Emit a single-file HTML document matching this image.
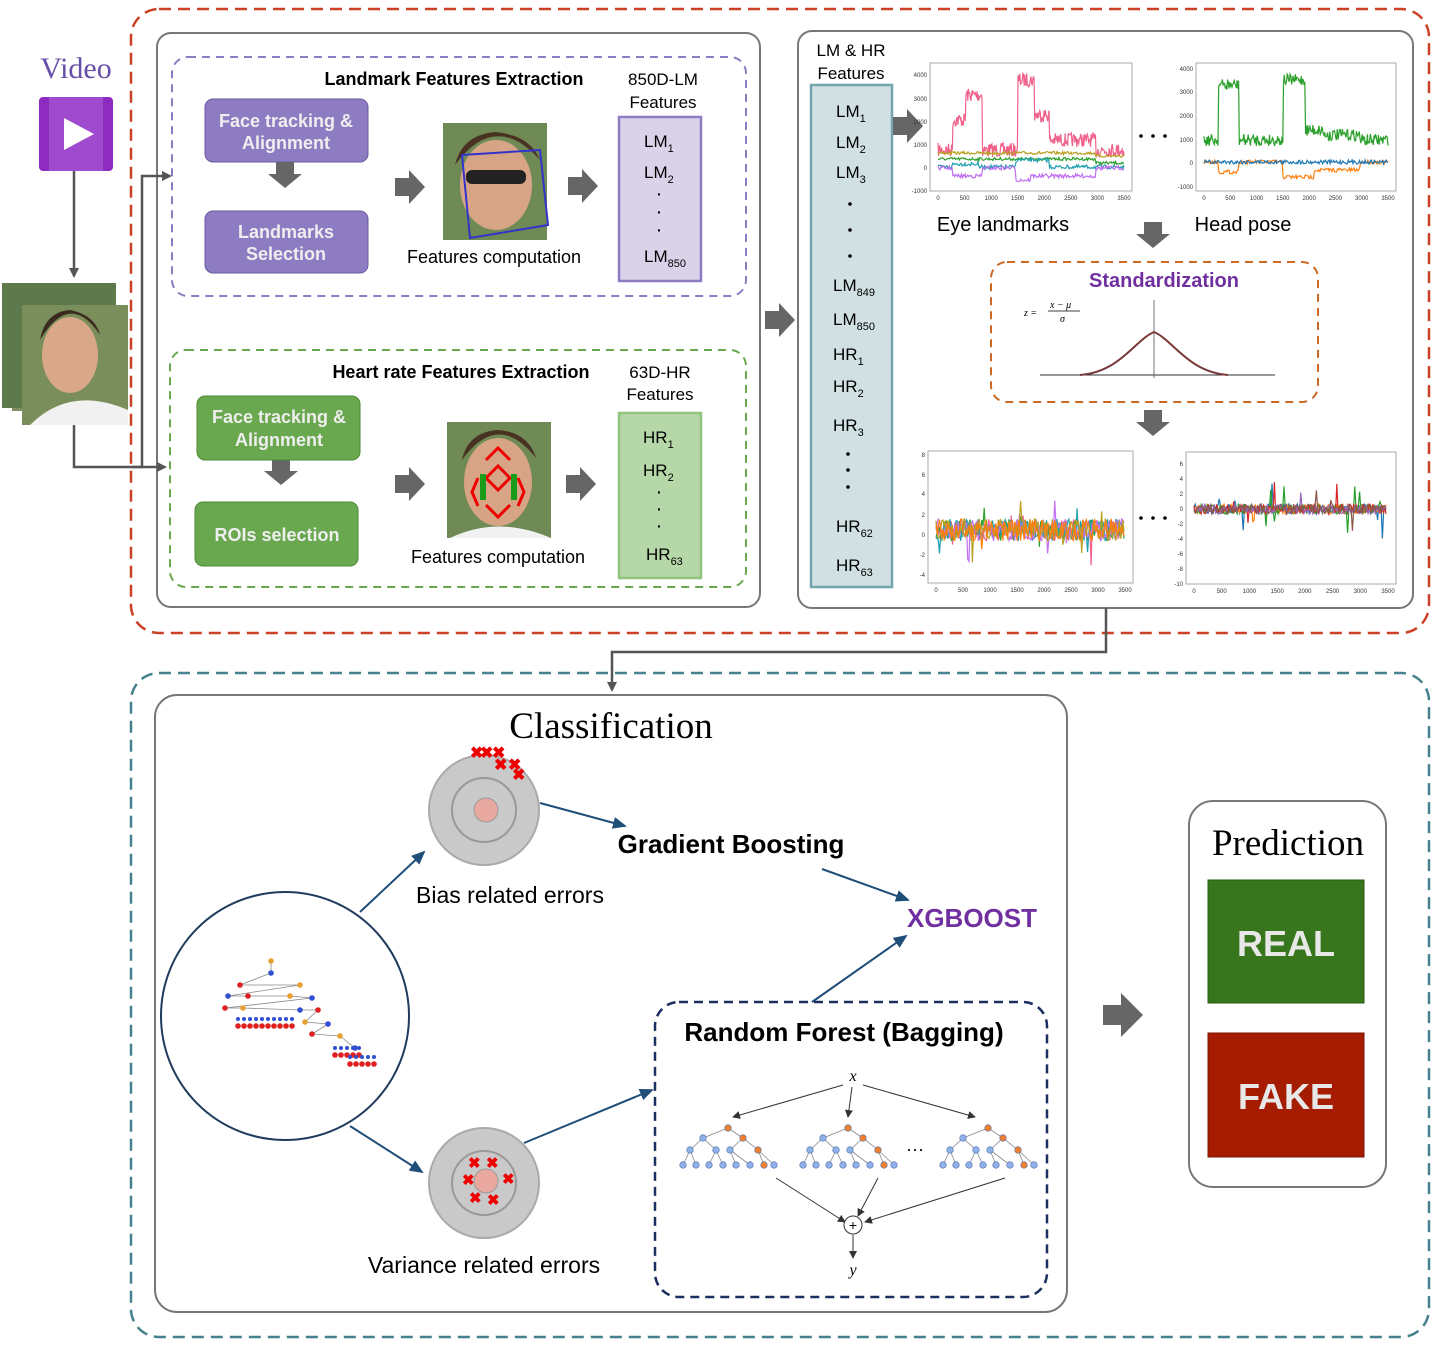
<!DOCTYPE html>
<html><head><meta charset="utf-8"><style>
body{margin:0;background:#fff;width:1440px;height:1349px;overflow:hidden}
svg text{font-family:"Liberation Sans",sans-serif}
</style></head><body>
<svg id="s" width="1440" height="1349" viewBox="0 0 1440 1349" xmlns="http://www.w3.org/2000/svg">
<defs>
<marker id="ah" markerWidth="10" markerHeight="10" refX="8" refY="5" orient="auto" markerUnits="userSpaceOnUse"><path d="M0,0 L10,5 L0,10 z" fill="#555"/></marker>
<marker id="ab" markerWidth="14" markerHeight="12" refX="12" refY="6" orient="auto" markerUnits="userSpaceOnUse"><path d="M0,0 L14,6 L0,12 z" fill="#1f4e79"/></marker>
<marker id="ak" markerWidth="8" markerHeight="8" refX="7" refY="4" orient="auto" markerUnits="userSpaceOnUse"><path d="M0,0 L8,4 L0,8 z" fill="#333"/></marker>
<g id="fat"><path d="M0,-9 L14,-9 L14,-17 L30,0 L14,17 L14,9 L0,9 z" fill="#666"/></g>
<g id="fatd"><path d="M-9,0 L-9,-12 L9,-12 L9,0 L17,0 L0,14 L-17,0 z" fill="#666"/></g>
</defs>
<rect x="131" y="9" width="1298" height="624" rx="28" fill="none" stroke="#cc4125" stroke-width="2.5" stroke-dasharray="12,7"/>
<rect x="131" y="673" width="1298" height="664" rx="28" fill="none" stroke="#45818e" stroke-width="2.5" stroke-dasharray="12,7"/>
<rect x="157" y="33" width="603" height="574" rx="14" fill="none" stroke="#777" stroke-width="2"/>
<rect x="798" y="31" width="615" height="577" rx="14" fill="none" stroke="#777" stroke-width="2"/>
<rect x="172" y="57" width="574" height="239" rx="16" fill="none" stroke="#8e7cc3" stroke-width="2" stroke-dasharray="8,6"/>
<rect x="170" y="350" width="576" height="237" rx="16" fill="none" stroke="#6aa84f" stroke-width="2" stroke-dasharray="8,6"/>

<text x="76" y="78" font-size="30" fill="#674ea7" text-anchor="middle" style="font-family:'Liberation Serif',serif">Video</text>
<rect x="39" y="97" width="74" height="74" rx="4" fill="#8e2bc0"/>
<rect x="49" y="97" width="54" height="74" fill="#a04ad0"/>
<path d="M64,118 L94,134 L64,150 z" fill="#fff"/>
<line x1="74" y1="171" x2="74" y2="276" stroke="#555" stroke-width="2.5" marker-end="url(#ah)"/>
<rect x="22" y="283" width="84" height="118" fill="#6a7f58"/>
<rect x="12" y="293" width="104" height="118" fill="#7e8f63"/>
<rect x="2" y="283" width="114" height="125" fill="#5e7a4c"/>
<rect x="22" y="305" width="106" height="120" fill="#7a8e5c"/>
<ellipse cx="70" cy="355" rx="28" ry="38" fill="#d9a888"/>
<path d="M40,340 Q70,290 100,335 Q95,315 70,310 Q45,312 40,340z" fill="#3b2a1e"/>
<path d="M30,425 Q70,385 128,410 L128,425z" fill="#f1f1f1"/>
<polyline points="74,425 74,467 165,467" fill="none" stroke="#555" stroke-width="2.5" marker-end="url(#ah)"/>
<polyline points="132,467 142,467 142,176 170,176" fill="none" stroke="#555" stroke-width="2.5" marker-end="url(#ah)"/>

<text x="454" y="85" font-size="18" font-weight="bold" text-anchor="middle">Landmark Features Extraction</text>
<rect x="205" y="99" width="163" height="63" rx="8" fill="#8e7cc3" stroke="#6a5aa0"/>
<text x="286" y="127" font-size="18" font-weight="bold" fill="#eee" text-anchor="middle">Face tracking &amp;</text>
<text x="286" y="149" font-size="18" font-weight="bold" fill="#eee" text-anchor="middle">Alignment</text>
<use href="#fatd" x="285" y="174"/>
<rect x="205" y="211" width="163" height="62" rx="8" fill="#8e7cc3" stroke="#6a5aa0"/>
<text x="286" y="238" font-size="18" font-weight="bold" fill="#eee" text-anchor="middle">Landmarks</text>
<text x="286" y="260" font-size="18" font-weight="bold" fill="#eee" text-anchor="middle">Selection</text>
<use href="#fatd" x="281" y="471"/>
<use href="#fat" x="395" y="187"/>
<use href="#fat" x="568" y="186"/>
<rect x="443" y="123" width="104" height="117" fill="#6f8a55"/>
<ellipse cx="496" cy="185" rx="36" ry="45" fill="#d7a585"/>
<path d="M455,165 Q495,110 540,160 Q530,135 495,132 Q462,135 455,165z" fill="#4a3222"/>
<rect x="466" y="170" width="60" height="14" rx="6" fill="#222"/>
<polygon points="462,155 540,150 548,225 470,238" fill="none" stroke="#3333cc" stroke-width="2"/>
<text x="494" y="263" font-size="18" text-anchor="middle">Features computation</text>
<text x="663" y="85" font-size="17" text-anchor="middle">850D-LM</text>
<text x="663" y="108" font-size="17" text-anchor="middle">Features</text>
<rect x="619" y="117" width="82" height="164" fill="#d9d2e9" stroke="#8e7cc3" stroke-width="2.5"/>
<text x="644" y="147" font-size="17">LM<tspan font-size="11" dy="5">1</tspan></text>
<text x="644" y="178" font-size="17">LM<tspan font-size="11" dy="5">2</tspan></text>
<text x="659" y="200" font-size="20" text-anchor="middle">·</text>
<text x="659" y="218" font-size="20" text-anchor="middle">·</text>
<text x="659" y="236" font-size="20" text-anchor="middle">·</text>
<text x="644" y="262" font-size="17">LM<tspan font-size="11" dy="5">850</tspan></text>

<text x="461" y="378" font-size="18" font-weight="bold" text-anchor="middle">Heart rate Features Extraction</text>
<rect x="197" y="396" width="163" height="64" rx="8" fill="#6aa84f" stroke="#4e8a36"/>
<text x="279" y="423" font-size="18" font-weight="bold" fill="#eee" text-anchor="middle">Face tracking &amp;</text>
<text x="279" y="446" font-size="18" font-weight="bold" fill="#eee" text-anchor="middle">Alignment</text>
<rect x="195" y="502" width="163" height="64" rx="8" fill="#6aa84f" stroke="#4e8a36"/>
<text x="277" y="541" font-size="18" font-weight="bold" fill="#eee" text-anchor="middle">ROIs selection</text>
<use href="#fat" x="395" y="484"/>
<use href="#fat" x="566" y="484"/>
<rect x="447" y="422" width="104" height="116" fill="#6f8a55"/>
<ellipse cx="498" cy="482" rx="34" ry="44" fill="#d7a585"/>
<path d="M462,460 Q498,410 536,458 Q528,432 498,430 Q468,432 462,460z" fill="#4a3222"/>
<path d="M486,460 L498,448 L510,460 M486,478 L498,466 L510,478 L498,490z M486,505 L498,517 L510,505 M478,478 L472,492 L478,506 M518,478 L524,492 L518,506" fill="none" stroke="#e00" stroke-width="3"/>
<rect x="480" y="474" width="6" height="26" fill="#1a9c1a"/><rect x="511" y="474" width="6" height="26" fill="#1a9c1a"/>
<path d="M450,538 Q498,515 551,538z" fill="#f1f1f1"/>
<text x="498" y="563" font-size="18" text-anchor="middle">Features computation</text>
<text x="660" y="378" font-size="17" text-anchor="middle">63D-HR</text>
<text x="660" y="400" font-size="17" text-anchor="middle">Features</text>
<rect x="619" y="413" width="82" height="165" fill="#b6d7a8" stroke="#93c47d" stroke-width="2.5"/>
<text x="643" y="443" font-size="17">HR<tspan font-size="11" dy="5">1</tspan></text>
<text x="643" y="476" font-size="17">HR<tspan font-size="11" dy="5">2</tspan></text>
<text x="659" y="498" font-size="20" text-anchor="middle">·</text>
<text x="659" y="515" font-size="20" text-anchor="middle">·</text>
<text x="659" y="532" font-size="20" text-anchor="middle">·</text>
<text x="646" y="560" font-size="17">HR<tspan font-size="11" dy="5">63</tspan></text>

<use href="#fat" x="765" y="320"/>

<text x="851" y="56" font-size="17" text-anchor="middle">LM &amp; HR</text>
<text x="851" y="79" font-size="17" text-anchor="middle">Features</text>
<rect x="811" y="85" width="81" height="502" fill="#d0e0e3" stroke="#76a5af" stroke-width="2.5"/>
<g font-size="17">
<text x="836" y="117">LM<tspan font-size="11" dy="5">1</tspan></text>
<text x="836" y="148">LM<tspan font-size="11" dy="5">2</tspan></text>
<text x="836" y="178">LM<tspan font-size="11" dy="5">3</tspan></text>
<text x="833" y="291">LM<tspan font-size="11" dy="5">849</tspan></text>
<text x="833" y="325">LM<tspan font-size="11" dy="5">850</tspan></text>
<text x="833" y="360">HR<tspan font-size="11" dy="5">1</tspan></text>
<text x="833" y="392">HR<tspan font-size="11" dy="5">2</tspan></text>
<text x="833" y="431">HR<tspan font-size="11" dy="5">3</tspan></text>
<text x="836" y="532">HR<tspan font-size="11" dy="5">62</tspan></text>
<text x="836" y="571">HR<tspan font-size="11" dy="5">63</tspan></text>
</g>
<g fill="#000"><circle cx="850" cy="204" r="1.8"/><circle cx="850" cy="230" r="1.8"/><circle cx="850" cy="256" r="1.8"/>
<circle cx="848" cy="454" r="1.8"/><circle cx="848" cy="470" r="1.8"/><circle cx="848" cy="487" r="1.8"/>
<circle cx="1141" cy="136" r="1.8"/><circle cx="1153" cy="136" r="1.8"/><circle cx="1165" cy="136" r="1.8"/>
<circle cx="1141" cy="518" r="1.8"/><circle cx="1153" cy="518" r="1.8"/><circle cx="1165" cy="518" r="1.8"/></g>
<use href="#fat" x="893" y="126"/>
<g id="charts"></g>
<text x="1003" y="231" font-size="20" text-anchor="middle">Eye landmarks</text>
<text x="1243" y="231" font-size="20" text-anchor="middle">Head pose</text>
<use href="#fatd" x="1153" y="234"/>
<use href="#fatd" x="1153" y="422"/>
<rect x="991" y="262" width="327" height="140" rx="16" fill="none" stroke="#cc6a25" stroke-width="2" stroke-dasharray="8,6"/>
<text x="1164" y="287" font-size="20" font-weight="bold" fill="#7030a0" text-anchor="middle">Standardization</text>
<text x="1024" y="316" font-size="10" font-style="italic" style="font-family:'Liberation Serif',serif">z =</text>
<text x="1050" y="308" font-size="10" font-style="italic" style="font-family:'Liberation Serif',serif">x − μ</text>
<line x1="1048" y1="311" x2="1080" y2="311" stroke="#000" stroke-width="0.8"/>
<text x="1060" y="322" font-size="10" font-style="italic" style="font-family:'Liberation Serif',serif">σ</text>
<line x1="1040" y1="375" x2="1275" y2="375" stroke="#333"/>
<line x1="1154" y1="300" x2="1154" y2="378" stroke="#555" stroke-width="0.8"/>
<path d="M1080,375 C1120,372 1135,340 1154,332 C1173,340 1188,372 1228,375" fill="none" stroke="#7a3a3a" stroke-width="2"/>

<polyline points="1106,608 1106,652 612,652 612,690" fill="none" stroke="#555" stroke-width="2.5" marker-end="url(#ah)"/>

<rect x="155" y="695" width="912" height="617" rx="22" fill="none" stroke="#777" stroke-width="2"/>
<text x="611" y="738" font-size="37" text-anchor="middle" style="font-family:'Liberation Serif',serif">Classification</text>
<circle cx="285" cy="1016" r="124" fill="#fff" stroke="#1f3b5e" stroke-width="2"/>
<g id="tree"></g>
<circle cx="484" cy="810" r="55" fill="#c9c9c9" stroke="#aaa" stroke-width="2"/>
<circle cx="484" cy="810" r="32" fill="none" stroke="#999" stroke-width="2"/>
<circle cx="486" cy="810" r="12" fill="#e8a8a0" stroke="#999"/>
<g fill="#e00" font-size="16" font-weight="bold"><text x="470" y="758">✖</text><text x="480" y="758">✖</text><text x="492" y="758">✖</text><text x="494" y="770">✖</text><text x="508" y="770">✖</text><text x="512" y="780">✖</text></g>
<circle cx="484" cy="1183" r="55" fill="#c9c9c9" stroke="#aaa" stroke-width="2"/>
<circle cx="484" cy="1183" r="32" fill="none" stroke="#999" stroke-width="2"/>
<circle cx="486" cy="1181" r="12" fill="#e8a8a0" stroke="#999"/>
<g fill="#e00" font-size="15" font-weight="bold"><text x="468" y="1168">✖</text><text x="486" y="1168">✖</text><text x="462" y="1185">✖</text><text x="502" y="1184">✖</text><text x="469" y="1203">✖</text><text x="487" y="1205">✖</text></g>
<text x="510" y="903" font-size="23" text-anchor="middle">Bias related errors</text>
<text x="484" y="1273" font-size="23" text-anchor="middle">Variance related errors</text>
<g stroke="#1f4e79" stroke-width="2" fill="none">
<line x1="360" y1="912" x2="424" y2="852" marker-end="url(#ab)"/>
<line x1="350" y1="1126" x2="422" y2="1172" marker-end="url(#ab)"/>
<line x1="540" y1="803" x2="625" y2="826" marker-end="url(#ab)"/>
<line x1="524" y1="1143" x2="652" y2="1090" marker-end="url(#ab)"/>
<line x1="822" y1="869" x2="908" y2="900" marker-end="url(#ab)"/>
<line x1="812" y1="1002" x2="906" y2="936" marker-end="url(#ab)"/>
</g>
<text x="731" y="853" font-size="26" font-weight="bold" text-anchor="middle">Gradient Boosting</text>
<text x="972" y="927" font-size="26" font-weight="bold" fill="#7030a0" text-anchor="middle">XGBOOST</text>
<rect x="655" y="1002" width="392" height="295" rx="24" fill="none" stroke="#1c2f5e" stroke-width="2.5" stroke-dasharray="9,6"/>
<text x="844" y="1041" font-size="26" font-weight="bold" text-anchor="middle">Random Forest (Bagging)</text>
<text x="853" y="1081" font-size="16" font-style="italic" text-anchor="middle" style="font-family:'Liberation Serif',serif">x</text>
<g stroke="#333" stroke-width="1" fill="none">
<line x1="843" y1="1085" x2="733" y2="1117" marker-end="url(#ak)"/>
<line x1="852" y1="1087" x2="848" y2="1117" marker-end="url(#ak)"/>
<line x1="863" y1="1085" x2="975" y2="1117" marker-end="url(#ak)"/>
<line x1="776" y1="1178" x2="845" y2="1222" marker-end="url(#ak)"/>
<line x1="878" y1="1178" x2="858" y2="1216" marker-end="url(#ak)"/>
<line x1="1005" y1="1178" x2="865" y2="1222" marker-end="url(#ak)"/>
<line x1="853" y1="1235" x2="853" y2="1258" marker-end="url(#ak)"/>
</g>
<circle cx="853" cy="1225" r="9" fill="#fff" stroke="#333"/>
<text x="853" y="1230" font-size="14" text-anchor="middle">+</text>
<text x="853" y="1275" font-size="16" font-style="italic" text-anchor="middle" style="font-family:'Liberation Serif',serif">y</text>
<text x="915" y="1155" font-size="18" text-anchor="middle">···</text>
<g id="rf"></g>
<path d="M1103,1005 L1121,1005 L1121,993 L1143,1015 L1121,1037 L1121,1025 L1103,1025z" fill="#666"/>
<rect x="1189" y="801" width="197" height="386" rx="24" fill="none" stroke="#777" stroke-width="2"/>
<text x="1288" y="855" font-size="37" text-anchor="middle" style="font-family:'Liberation Serif',serif">Prediction</text>
<rect x="1208" y="880" width="156" height="123" fill="#38761d" stroke="#2a5a14"/>
<text x="1286" y="956" font-size="36" font-weight="bold" fill="#e8e8e8" text-anchor="middle">REAL</text>
<rect x="1208" y="1033" width="156" height="124" fill="#a61c00" stroke="#7a1500"/>
<text x="1286" y="1109" font-size="36" font-weight="bold" fill="#e8e8e8" text-anchor="middle">FAKE</text>
</svg>
<script>
var NS="http://www.w3.org/2000/svg";
function el(p,t,a){var e=document.createElementNS(NS,t);for(var k in a)e.setAttribute(k,a[k]);p.appendChild(e);return e;}
var seed=7;function r(){seed=(seed*16807)%2147483647;return seed/2147483647;}
var C=document.getElementById("charts");
function axes(x,y,w,h,yt){el(C,"rect",{x:x,y:y,width:w,height:h,fill:"#fff",stroke:"#aaa"});
 yt.forEach(function(t){var tx=el(C,"text",{x:x-3,y:t[1]+2,"font-size":6,"text-anchor":"end",fill:"#333"});tx.textContent=t[0];});
 for(var i=0;i<8;i++){var tx=el(C,"text",{x:x+8+i*(w-16)/7,y:y+h+9,"font-size":6,"text-anchor":"middle",fill:"#333"});tx.textContent=i*500;}}
function line(x0,x1,f,col,n,noise,spk){var p=[];for(var i=0;i<=n;i++){var t=i/n;var v=f(t)+(r()-.5)*noise;if(spk&&r()<0.03)v+=(r()-.5)*spk;p.push((x0+t*(x1-x0)).toFixed(1)+","+v.toFixed(1));}el(C,"polyline",{points:p.join(" "),fill:"none",stroke:col,"stroke-width":1.2});}
function step(segs,base){return function(t){for(var i=0;i<segs.length;i++)if(t>=segs[i][0]&&t<segs[i][1])return segs[i][2];return base;};}
axes(930,63,202,128,[["4000",75],["3000",99],["2000",122],["1000",145],["0",168],["-1000",191]]);
line(938,1124,step([[.08,.15,120],[.15,.24,95],[.43,.52,80],[.52,.6,115],[.6,.85,140],[.85,.86,150]],150),"#f0628a",300,14);
line(938,1124,function(t){return t<.85?153:156},"#b8a020",200,3);
line(938,1124,function(t){return t<.85?159:163},"#2ca02c",200,3);
line(938,1124,step([[.08,.22,164],[.42,.6,160]],167),"#1fa0b0",200,4);
line(938,1124,step([[.08,.24,176],[.42,.5,180],[.5,.85,176]],168),"#c070f0",200,4);
axes(1196,63,200,128,[["4000",69],["3000",92],["2000",116],["1000",140],["0",163],["-1000",187]]);
line(1204,1388,step([[.08,.19,85],[.43,.55,80],[.55,.65,130],[.65,.85,135]],140),"#2ca02c",250,12);
line(1204,1388,step([[.08,.19,172],[.43,.6,177],[.6,.85,170]],162),"#ff7f0e",200,4);
line(1204,1388,function(t){return 162},"#1f77b4",200,4);
axes(928,451,205,132,[["8",455],["6",475],["4",494],["2",515],["0",535],["-2",555],["-4",575]]);
["#f0628a","#2ca02c","#1fa0b0","#c070f0","#b8a020","#ff7f0e"].forEach(function(c){line(936,1124,function(t){return 530},c,160,22,60);});
axes(1186,452,210,132,[["6",464],["4",479],["2",494],["0",509],["-2",524],["-4",539],["-6",554],["-8",569],["-10",584]]);
["#1f77b4","#ff7f0e","#2ca02c","#d62728","#9467bd","#8c564b"].forEach(function(c){line(1194,1386,function(t){return 509},c,160,10,50);});
var T=document.getElementById("tree");
function dot(g,x,y,c,rr){el(g,"circle",{cx:x,cy:y,r:rr||2.8,fill:c});}
function ln(g,a,b,c,d){el(g,"line",{x1:a,y1:b,x2:c,y2:d,stroke:"#888","stroke-width":0.8});}
var pts=[[271,961],[271,973],[240,985],[300,985],[228,996],[248,996],[290,996],[312,998],[225,1008],[243,1008],[300,1010],[318,1010],[305,1022],[328,1024],[312,1034],[340,1036],[355,1048]];
for(var i=1;i<pts.length;i++)ln(T,pts[i-1][0],pts[i-1][1],pts[i][0],pts[i][1]);
pts.forEach(function(p,i){dot(T,p[0],p[1],i%3==0?"#e8a030":(i%3==1?"#3050d0":"#e02020"));});
[[238,1026],[268,1026],[335,1055],[350,1064]].forEach(function(p){for(var k=0;k<5;k++){dot(T,p[0]+k*6,p[1],"#e02020");dot(T,p[0]+k*6,p[1]-7,"#3050d0",2);}});
var R=document.getElementById("rf");
[[728,1128],[848,1128],[988,1128]].forEach(function(o){var x=o[0],y=o[1];
 var nodes=[[x,y],[x-25,y+10],[x+15,y+10],[x-38,y+22],[x-12,y+22],[x+2,y+22],[x+30,y+22],[x-45,y+37],[x-32,y+37],[x-19,y+37],[x-5,y+37],[x+8,y+37],[x+22,y+37],[x+36,y+37],[x+46,y+37]];
 var par=[0,0,0,1,1,2,2,3,3,4,4,5,5,6,6];
 for(var i=1;i<nodes.length;i++)ln(R,nodes[par[i]][0],nodes[par[i]][1],nodes[i][0],nodes[i][1]);
 nodes.forEach(function(n,i){el(R,"circle",{cx:n[0],cy:n[1],r:3.3,fill:(i==0||i==2||i==6||i==13)?"#f08030":"#8fb0e8",stroke:"#5070b0","stroke-width":0.6});});});
</script>
</body></html>
